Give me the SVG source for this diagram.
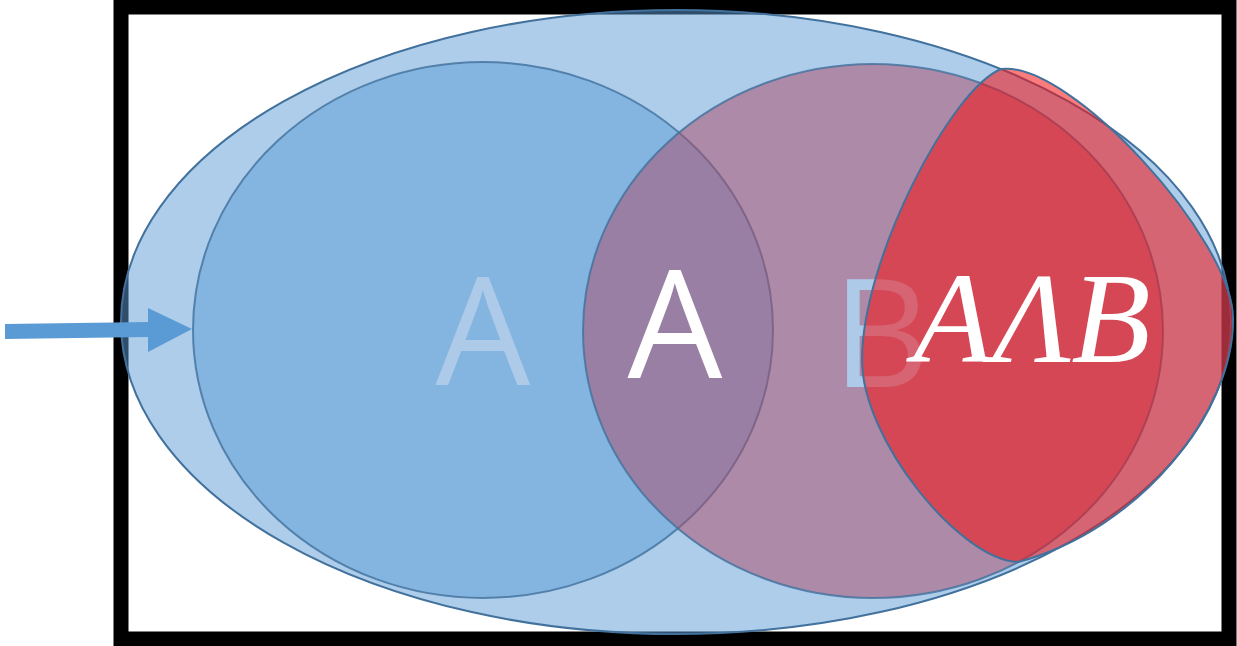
<svg xmlns="http://www.w3.org/2000/svg" width="1237" height="646" viewBox="0 0 1237 646">
  <style>
    .edge { stroke: #41719C; stroke-width: 2; }
    .big { font-family: "Open Sans", "Liberation Sans", sans-serif; font-size: 150px; text-anchor: middle; }
    .math { font-family: "Liberation Serif", "DejaVu Serif", serif; font-style: italic; font-size: 130px; fill: #FFFFFF; text-anchor: middle; }
  </style>
  <rect id="frame" x="121" y="7" width="1108" height="632" fill="#FFFFFF" stroke="#000000" stroke-width="15"/>
  <g id="universe">
    <ellipse cx="676" cy="322" rx="555" ry="312" fill="#5B9BD5" fill-opacity="0.5" class="edge"/>
  </g>
  <g id="setA">
    <ellipse cx="483" cy="330" rx="290" ry="268" fill="#5B9BD5" fill-opacity="0.5" class="edge" stroke-opacity="0.8"/>
  </g>
  <g id="setB">
    <ellipse cx="873" cy="331" rx="290" ry="267" fill="rgb(173,73,102)" fill-opacity="0.5" class="edge" stroke-opacity="0.8"/>
  </g>
  <g id="labels">
    <text class="big" x="483" y="385" fill="#ADCBE8">A</text>
    <text class="big" x="881" y="387" fill="#ADCBE8">B</text>
    <text class="big" x="675" y="378" fill="#FFFFFF">A</text>
  </g>
  <g id="AandB">
    <path d="M1001,69 C1070,60 1233,240 1233,318 C1235,410 1140,530 1018,562 C960,560 862,440 862,360 C862,260 950,90 1001,69 Z" fill="rgb(247,16,18)" fill-opacity="0.55" class="edge"/>
    <text class="math" x="1032" y="362">AΛB</text>
  </g>
  <g id="connectors">
    <path d="M5,324 L148,322 L148,308 L192,329 L148,352 L148,337 L5,339 Z" fill="#5B9BD5"/>
  </g>
</svg>
